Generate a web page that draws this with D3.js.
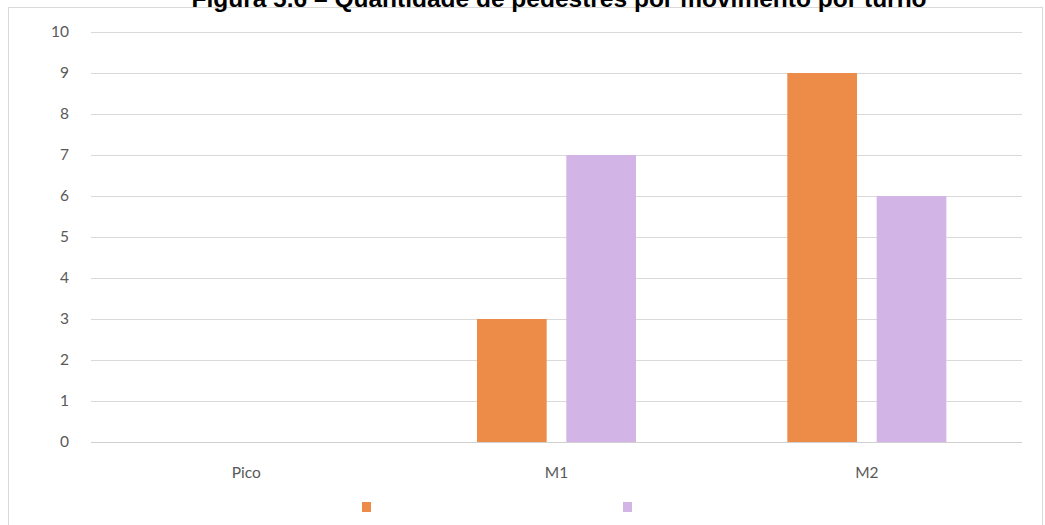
<!DOCTYPE html>
<html>
<head>
<meta charset="utf-8">
<script src="https://cdn.jsdelivr.net/npm/d3@7/dist/d3.min.js"></script>
<style>
  html, body { margin: 0; padding: 0; background: #fff; }
  svg { display: block; }
</style>
</head>
<body>
<svg id="chart" width="1045" height="525"></svg>
<script>
const titleText = "Figura 5.6 – Quantidade de pedestres por movimento por turno";
const categories = ["Pico", "M1", "M2"];
const seriesNames = ["Série 1", "Série 2"];
const series1 = [0, 3, 9];
const series2 = [0, 7, 6];
const yTicks = [0, 1, 2, 3, 4, 5, 6, 7, 8, 9, 10];
const colors = ["#ED8B48", "#D2B4E6"];

const svg = d3.select("#chart");
const plot = { left: 91, right: 1022, top: 32, bottom: 442 };

// outer frame
svg.append("rect")
  .attr("x", 8.5).attr("y", 7.5)
  .attr("width", 1034).attr("height", 530)
  .attr("fill", "none").attr("stroke", "#d9d9d9").attr("stroke-width", 1);

// title (partially cut at top, as in the reference)
svg.append("text")
  .attr("x", 559).attr("y", 7)
  .attr("text-anchor", "middle")
  .attr("font-family", "Liberation Sans, Arial, sans-serif")
  .attr("font-weight", "bold")
  .attr("font-size", 24.5)
  .attr("fill", "#000")
  .text(titleText);

const y = d3.scaleLinear().domain([0, 10]).range([plot.bottom, plot.top]);
const x0 = d3.scaleBand().domain(categories).range([plot.left, plot.right])
  .paddingInner(0.4876).paddingOuter(0.2438);
const x1 = d3.scaleBand().domain(seriesNames).range([0, x0.bandwidth()])
  .paddingInner(0.22).paddingOuter(0);

// gridlines via axis
const yAxis = d3.axisLeft(y).tickValues(yTicks).tickSize(-(plot.right - plot.left)).tickPadding(22);
const gy = svg.append("g").attr("transform", `translate(${plot.left},0)`).call(yAxis);
gy.select(".domain").remove();
gy.selectAll(".tick line").attr("stroke", "#d9d9d9").attr("stroke-width", 1);
gy.selectAll(".tick text")
  .attr("font-family", "Lato, 'Open Sans', sans-serif")
  .attr("font-size", 15.5)
  .attr("fill", "#595959");

// bars
const data = categories.map((c, i) => ({ cat: c, vals: [series1[i], series2[i]] }));
const groups = svg.append("g").selectAll("g").data(data).join("g")
  .attr("transform", d => `translate(${x0(d.cat)},0)`);
groups.selectAll("rect").data(d => d.vals.map((v, j) => ({ v, s: seriesNames[j], j })))
  .join("rect")
  .attr("x", d => x1(d.s))
  .attr("width", x1.bandwidth())
  .attr("y", d => y(d.v))
  .attr("height", d => y(0) - y(d.v))
  .attr("fill", d => colors[d.j]);

// baseline
svg.append("line")
  .attr("x1", plot.left).attr("x2", plot.right)
  .attr("y1", y(0) + 0.5).attr("y2", y(0) + 0.5)
  .attr("stroke", "#d0d0d0");

// x axis labels
const xAxis = d3.axisBottom(x0).tickSize(0).tickPadding(25);
const gx = svg.append("g").attr("transform", `translate(0,${plot.bottom})`).call(xAxis);
gx.select(".domain").remove();
gx.selectAll(".tick text")
  .attr("font-family", "Lato, 'Open Sans', sans-serif")
  .attr("font-size", 15.5)
  .attr("fill", "#595959");

// legend (markers only, no labels)
const legendX = [362, 623];
svg.append("g").selectAll("rect").data(seriesNames).join("rect")
  .attr("x", (d, i) => legendX[i])
  .attr("y", 502)
  .attr("width", 9).attr("height", 10)
  .attr("fill", (d, i) => colors[i]);
</script>
</body>
</html>
